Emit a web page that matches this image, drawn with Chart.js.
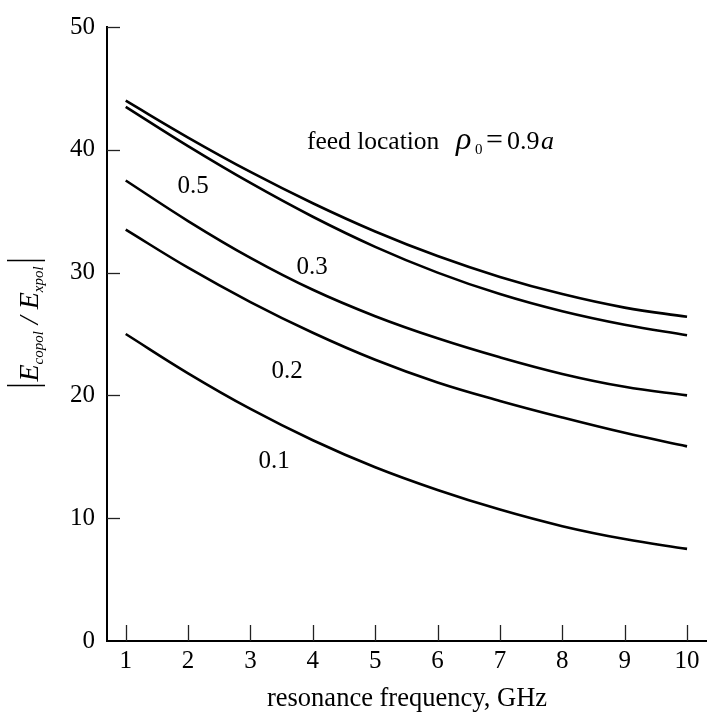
<!DOCTYPE html>
<html>
<head>
<meta charset="utf-8">
<script src="https://cdn.jsdelivr.net/npm/chart.js@4.4.1/dist/chart.umd.min.js"></script>
<style>
  html, body { margin: 0; padding: 0; background: #fff; }
  #wrap { width: 707px; height: 713px; position: relative; }
</style>
</head>
<body>
<div id="wrap"><canvas id="chart" width="707" height="713"></canvas></div>
<script>
/* ── Data ───────────────────────────────────────────────────── */

const freqs    = [1, 2, 3, 4, 5, 6, 7, 8, 9, 10];
const curveTop = [44.0, 41.0, 38.2, 35.65, 33.35, 31.35, 29.65, 28.25, 27.15, 26.4];
const curve05  = [43.5, 40.3, 37.3, 34.55, 32.1, 30.0, 28.25, 26.85, 25.75, 24.9];
const curve03  = [37.5, 34.2, 31.2, 28.6, 26.45, 24.65, 23.1, 21.75, 20.7, 20.0];
const curve02  = [33.5, 30.4, 27.6, 25.1, 22.9, 21.05, 19.55, 18.2, 16.95, 15.85];
const curve01  = [25.0, 21.8, 18.9, 16.35, 14.15, 12.3, 10.7, 9.35, 8.3, 7.5];

const xTicks = [1, 2, 3, 4, 5, 6, 7, 8, 9, 10];
const yTicks = [0, 10, 20, 30, 40, 50];

// curve tags, placed in data units
const tagText = ["0.5", "0.3", "0.2", "0.1"];
const tagX    = [2.08, 3.99, 3.59, 3.38];
const tagY    = [37.0, 30.4, 21.95, 14.6];

const SERIF = '"Liberation Serif", "DejaVu Serif", serif';

/* ── Helpers ────────────────────────────────────────────────── */

function toPoints(ys) {
  return freqs.map((x, i) => ({ x: x, y: ys[i] }));
}

function curve(ys) {
  return {
    data: toPoints(ys),
    borderColor: "#000",
    borderWidth: 2.6,
    pointRadius: 0,
    fill: false,
    tension: 0.4,
  };
}

function line(ctx, x1, y1, x2, y2) {
  ctx.beginPath();
  ctx.moveTo(x1, y1);
  ctx.lineTo(x2, y2);
  ctx.stroke();
}

// draws a run of [text, font, dy] pieces starting at x, returns end x
function drawRun(ctx, pieces, x, y) {
  pieces.forEach(p => {
    ctx.font = p[1];
    ctx.fillText(p[0], x, y + p[2]);
    x += ctx.measureText(p[0]).width;
  });
  return x;
}

function runWidth(ctx, pieces) {
  let w = 0;
  pieces.forEach(p => { ctx.font = p[1]; w += ctx.measureText(p[0]).width; });
  return w;
}

/* ── Overlay: inward ticks, y title, annotations ────────────── */

const overlay = {
  id: "overlay",
  afterDraw(chart) {
    const ctx = chart.ctx;
    const xs = chart.scales.x, ys = chart.scales.y;
    ctx.save();

    // tick marks point into the plot
    ctx.strokeStyle = "#222";
    ctx.lineWidth = 1.3;
    xs.ticks.forEach(t => {
      const px = Math.round(xs.getPixelForValue(t.value)) + 0.5;
      line(ctx, px, ys.bottom, px, ys.bottom - 16);
    });
    ys.ticks.forEach(t => {
      if (t.value === 0) return;
      const py = Math.round(ys.getPixelForValue(t.value)) + 0.5;
      line(ctx, xs.left, py, xs.left + 13, py);
    });

    ctx.fillStyle = "#000";
    ctx.textBaseline = "alphabetic";

    // y title |E_copol / E_xpol|
    const big = "italic 28px " + SERIF, small = "italic 15px " + SERIF;
    const yPieces = [["E", big, 0], ["copol", small, 5], [" / ", big, 0], ["E", big, 0], ["xpol", small, 5]];
    ctx.save();
    ctx.translate(38, 323);
    ctx.rotate(-Math.PI / 2);
    const w = runWidth(ctx, yPieces) + 10;
    let x = -w / 2;
    ctx.lineWidth = 1.6;
    ctx.strokeStyle = "#000";
    line(ctx, x, -31, x, 7);
    drawRun(ctx, yPieces, x + 4, 0);
    line(ctx, x + w, -31, x + w, 7);
    ctx.restore();

    // curve tags
    ctx.font = "25px " + SERIF;
    ctx.textAlign = "center";
    ctx.textBaseline = "middle";
    tagText.forEach((t, i) => {
      ctx.fillText(t, xs.getPixelForValue(tagX[i]), ys.getPixelForValue(tagY[i]));
    });

    // feed location note
    ctx.textAlign = "left";
    ctx.textBaseline = "alphabetic";
    const fx = xs.getPixelForValue(3.906), fy = ys.getPixelForValue(40.1);
    ctx.font = "25.5px " + SERIF;
    ctx.fillText("feed location", fx, fy);
    ctx.font = "italic 32px " + SERIF;
    ctx.fillText("\u03c1", fx + 149, fy);
    ctx.font = "15px " + SERIF;
    ctx.fillText("0", fx + 168, fy + 5);
    ctx.font = "30px " + SERIF;
    ctx.fillText("=", fx + 179, fy);
    ctx.font = "26px " + SERIF;
    ctx.fillText("0.9", fx + 200, fy);
    ctx.font = "italic 26px " + SERIF;
    ctx.fillText("a", fx + 234, fy);

    ctx.restore();
  },
};

/* ── Chart ──────────────────────────────────────────────────── */

new Chart(document.getElementById("chart"), {
  type: "line",
  data: {
    datasets: [curve(curveTop), curve(curve05), curve(curve03), curve(curve02), curve(curve01)],
  },
  options: {
    responsive: false,
    animation: false,
    layout: { padding: { top: 16, right: 0, left: 0, bottom: 0 } },
    plugins: { legend: { display: false }, tooltip: { enabled: false } },
    scales: {
      x: {
        type: "linear",
        min: 0.7,
        max: 10.32,
        afterBuildTicks: s => { s.ticks = xTicks.map(v => ({ value: v })); },
        afterFit: s => { s.height = 72; },
        grid: { display: true, drawOnChartArea: false, drawTicks: false },
        border: { display: true, color: "#000", width: 2 },
        ticks: { color: "#000", font: { family: SERIF, size: 25 }, padding: 5, maxRotation: 0, autoSkip: false },
        title: {
          display: true,
          text: "resonance frequency, GHz",
          color: "#000",
          font: { family: SERIF, size: 26.5 },
          padding: { top: 0, bottom: -1.5 },
        },
      },
      y: {
        type: "linear",
        min: 0,
        max: 50,
        afterBuildTicks: s => { s.ticks = yTicks.map(v => ({ value: v })); },
        afterFit: s => { s.width = 107; },
        grid: { display: true, drawOnChartArea: false, drawTicks: false },
        border: { display: true, color: "#000", width: 2 },
        ticks: { color: "#000", font: { family: SERIF, size: 25 }, padding: 12 },
      },
    },
  },
  plugins: [overlay],
});
</script>
</body>
</html>
